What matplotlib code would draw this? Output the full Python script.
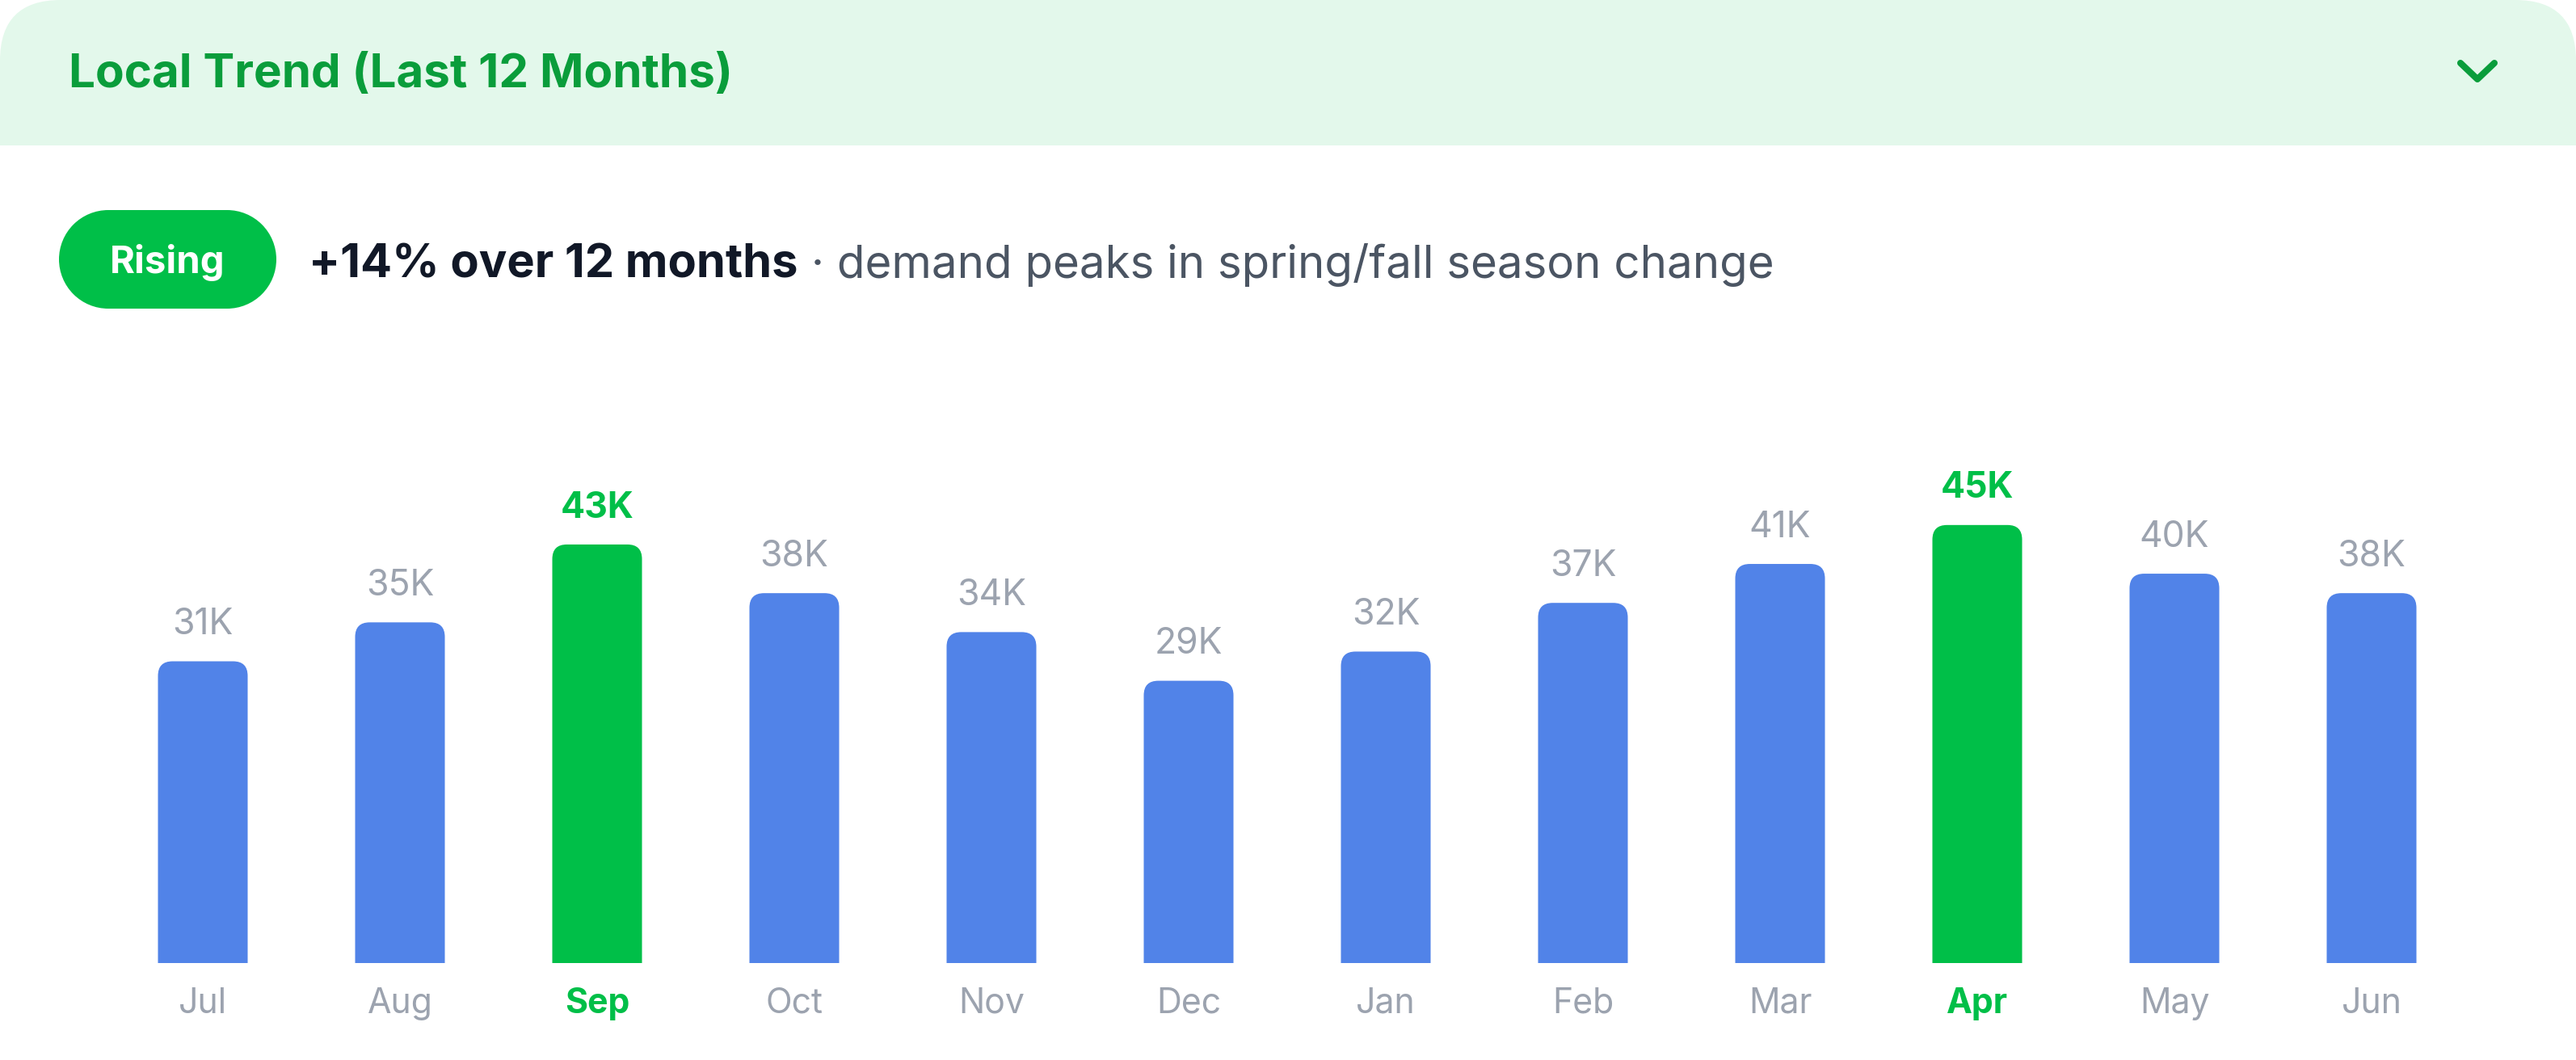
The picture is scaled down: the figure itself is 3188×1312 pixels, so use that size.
import numpy as np
import matplotlib
matplotlib.use("Agg")
import matplotlib.pyplot as plt
from matplotlib.patches import FancyBboxPatch, Rectangle, Circle
from matplotlib.transforms import ScaledTranslation

plt.rcParams['font.family'] = ['Inter', 'DejaVu Sans']

months = ['Jul', 'Aug', 'Sep', 'Oct', 'Nov', 'Dec', 'Jan', 'Feb', 'Mar', 'Apr', 'May', 'Jun']
values = [31, 35, 43, 38, 34, 29, 32, 37, 41, 45, 40, 38]   # thousands
peaks = ['Sep', 'Apr']

title = 'Local Trend (Last 12 Months)'
badge = 'Rising'
headline = '+14% over 12 months'
detail = ' · demand peaks in spring/fall season change'

BLUE = '#5183e8'
GREEN = '#00bf48'
DARK_GREEN = '#0a9d3b'
GRAY = '#9ca3af'
HEADER_BG = '#e3f8eb'

W, H, DPI = 3188, 1312, 200
fig = plt.figure(figsize=(W / DPI, H / DPI), dpi=DPI)

# background layer in pixel coords (y down)
bg = fig.add_axes([0, 0, 1, 1])
bg.set_xlim(0, W)
bg.set_ylim(H, 0)
bg.axis('off')

# header band with rounded top corners
bg.add_patch(FancyBboxPatch((0, 0), W, 180, boxstyle='round,pad=0,rounding_size=75',
                            fc=HEADER_BG, ec='none'))
bg.add_patch(Rectangle((0, 100), W, 80, fc=HEADER_BG, ec='none'))
bg.text(85, 108, title, fontsize=21, fontweight='bold', color=DARK_GREEN, va='baseline')
bg.plot([3045, 3066, 3087], [78, 98, 78], color=DARK_GREEN, lw=2.9,
        solid_capstyle='round', solid_joinstyle='round')

# badge pill + summary line
r_pill = 61
bg.add_patch(Rectangle((73 + r_pill, 260), 269 - 2 * r_pill, 2 * r_pill, fc=GREEN, ec='none'))
bg.add_patch(Circle((73 + r_pill, 260 + r_pill), r_pill, fc=GREEN, ec='none'))
bg.add_patch(Circle((342 - r_pill, 260 + r_pill), r_pill, fc=GREEN, ec='none'))
bg.text(207.5, 338, badge, fontsize=17, fontweight='bold', color='white',
        ha='center', va='baseline')
t1 = bg.text(382, 343, headline, fontsize=20.8, fontweight='bold', color='#111827', va='baseline')
bg.annotate(detail, xy=(1, 0), xycoords=t1, fontsize=20.3, color='#4b5563', va='bottom')

# bar chart
top_k = 49.8
ax = fig.add_axes([129 / W, (H - 1192) / H, 2928 / W, 600 / H])
ax.set_xlim(-0.5, 11.5)
ax.set_ylim(0, top_k)
ax.axis('off')

x = np.arange(len(months))
colors = [GREEN if m in peaks else BLUE for m in months]
bars = ax.bar(x, values, width=0.455, color=colors)

px_x = 2928 / 12.0    # pixels per x unit
px_y = 600 / top_k    # pixels per y unit
r = 18
for b, c in zip(bars, colors):
    b.set_visible(False)
    ax.add_patch(FancyBboxPatch((b.get_x(), -5), b.get_width(), b.get_height() + 5,
                                boxstyle='round,pad=0,rounding_size=%f' % (r / px_x),
                                mutation_aspect=(r / px_y) / (r / px_x),
                                fc=c, ec='none', clip_on=True))

for xi, v, m in zip(x, values, months):
    hi = m in peaks
    ax.annotate('%dK' % v, xy=(xi, v), xytext=(0, 12), textcoords='offset points',
                ha='center', va='baseline', fontsize=16,
                fontweight='bold' if hi else 'normal', color=GREEN if hi else GRAY)

lab_tr = ax.get_xaxis_transform() + ScaledTranslation(0, -62 / DPI, fig.dpi_scale_trans)
for xi, m in zip(x, months):
    hi = m in peaks
    ax.text(xi, 0, m, transform=lab_tr, ha='center', va='baseline', fontsize=15.4,
            fontweight='bold' if hi else 'normal', color=GREEN if hi else GRAY)

fig.savefig('out.png', dpi=DPI, facecolor='white')
